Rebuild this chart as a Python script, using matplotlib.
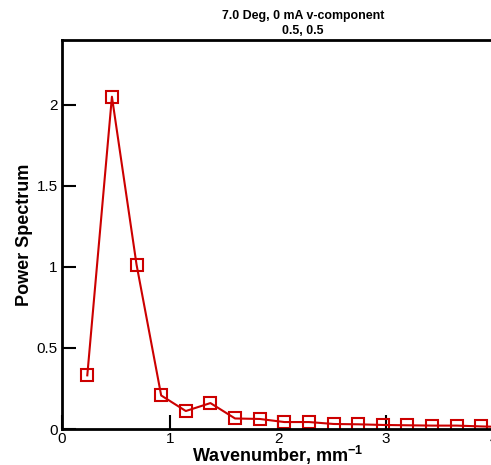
import numpy as np
import matplotlib.pyplot as plt

plt.rcParams['font.family'] = ['Liberation Sans', 'DejaVu Sans']
plt.rcParams['mathtext.default'] = 'regular'

# wavenumber (1/mm) and power spectrum
wavenumber = [0.234, 0.462, 0.690, 0.918, 1.146, 1.374, 1.602, 1.830, 2.058,
              2.286, 2.514, 2.742, 2.970, 3.198, 3.426, 3.654, 3.882, 4.110]
power = [0.331, 2.05, 1.014, 0.207, 0.111, 0.160, 0.065, 0.062, 0.043,
         0.043, 0.031, 0.029, 0.025, 0.023, 0.021, 0.021, 0.016, 0.012]

fig = plt.figure(figsize=(4.91, 4.65), dpi=100)
ax = fig.add_axes([0.1263, 0.0774, 0.880, 0.8366])

red = '#cc0000'
ax.plot(wavenumber, power, color=red, lw=1.5, marker='s', ms=8,
        mfc='none', mec=red, mew=1.5)

ax.set_xlim(0, 4)
ax.set_ylim(0, 2.4)
ax.set_xticks([0, 1, 2, 3, 4])
ax.set_xticklabels(['0', '1', '2', '3', '4'])
ax.set_yticks([0, 0.5, 1, 1.5, 2])
ax.set_yticklabels(['0', '0.5', '1', '1.5', '2'])

for s in ax.spines.values():
    s.set_linewidth(2)
ax.tick_params(direction='in', length=10, width=1.5, labelsize=11, pad=3)
ax.tick_params(axis='x', pad=2)

ax.set_xlabel('Wavenumber, mm$^{-1}$', fontsize=13, fontweight='bold', labelpad=-1)
ax.set_ylabel('Power Spectrum', fontsize=13, fontweight='bold', labelpad=3)

fig.text(0.617, 0.949, '7.0 Deg, 0 mA v-component\n0.5, 0.5', ha='center', va='center',
         fontsize=8.9, fontweight='bold', linespacing=1.3)

fig.savefig('out.png', dpi=100)
